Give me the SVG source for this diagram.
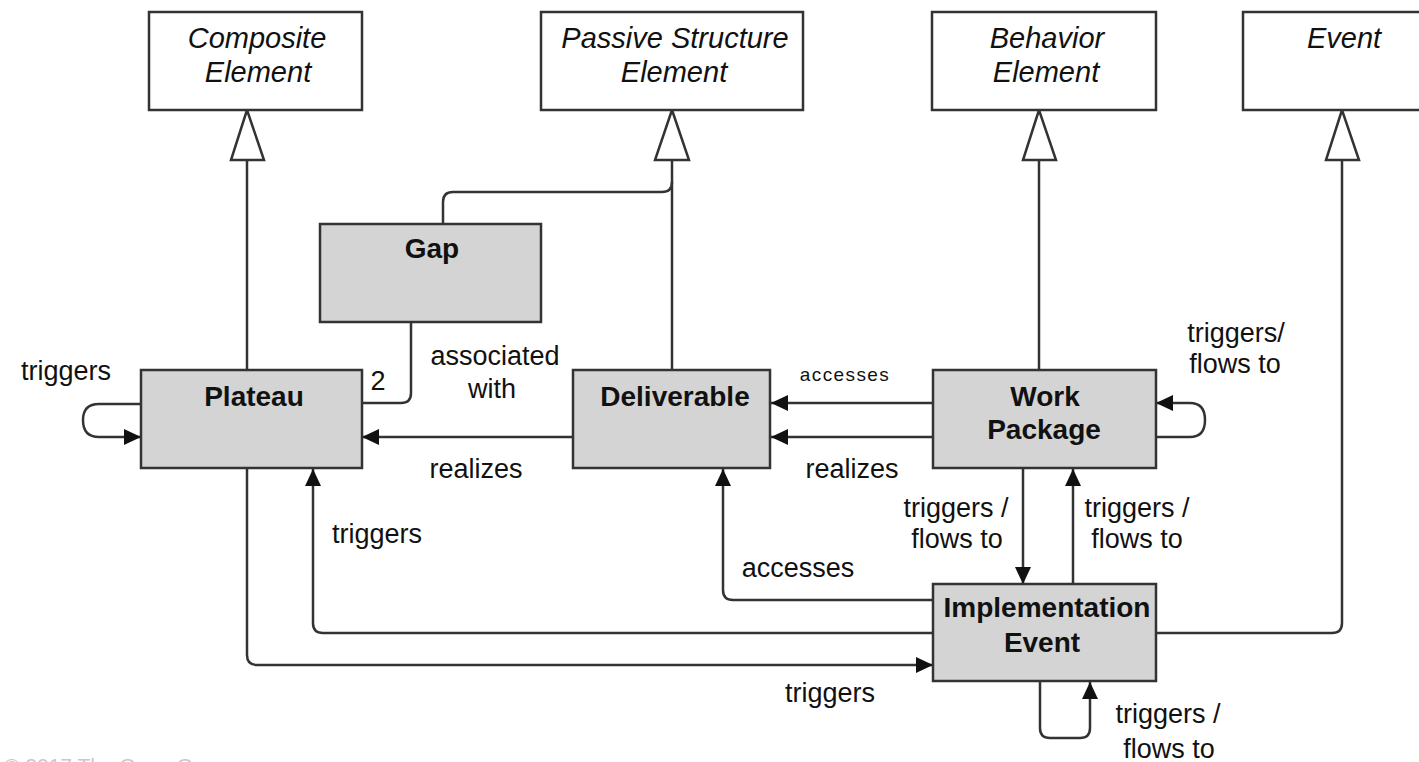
<svg xmlns="http://www.w3.org/2000/svg" width="1419" height="762" viewBox="0 0 1419 762">
  <style>
    .abs { fill: #ffffff; stroke: #333333; stroke-width: 2.5; }
    .con { fill: #d4d4d4; stroke: #333333; stroke-width: 2.5; }
    .it { font-family: "Liberation Sans", Arial, sans-serif; font-style: italic; font-size: 29px; fill: #111; text-anchor: middle; }
    .bd { font-family: "Liberation Sans", Arial, sans-serif; font-weight: bold; font-size: 28px; fill: #111; text-anchor: middle; }
    .lb { font-family: "Liberation Sans", Arial, sans-serif; font-size: 27px; fill: #111; text-anchor: middle; }
    .sm { font-family: "Liberation Sans", Arial, sans-serif; font-size: 19px; letter-spacing: 1.4px; fill: #111; text-anchor: middle; }
    .ln { fill: none; stroke: #333333; stroke-width: 2.5; }
    .gen { fill: #ffffff; stroke: #333333; stroke-width: 2.5; stroke-linejoin: miter; }
    .cp { font-family: "Liberation Sans", Arial, sans-serif; font-size: 21px; fill: #c8c8c8; }
  </style>
  <defs>
    <marker id="arr" viewBox="0 0 17 16" refX="17" refY="8" markerWidth="17" markerHeight="16" markerUnits="userSpaceOnUse" orient="auto">
      <path d="M0,0 L17,8 L0,16 Z" fill="#111"/>
    </marker>
  </defs>
  <rect width="1419" height="762" fill="#ffffff"/>

  <g id="connectors">
    <!-- generalizations -->
    <path class="ln" d="M247,160 V370"/>
    <polygon class="gen" points="247,110 231,160 264,160"/>
    <path class="ln" d="M672,160 V370"/>
    <path class="ln" d="M443,224 V202 Q443,192 453,192 H662 Q672,192 672,182"/>
    <polygon class="gen" points="672,110 655,160 689,160"/>
    <path class="ln" d="M1039,160 V370"/>
    <polygon class="gen" points="1039,110 1023,160 1056,160"/>
    <path class="ln" d="M1156,633 H1332 Q1342,633 1342,623 V160"/>
    <polygon class="gen" points="1342,110 1326,160 1359,160"/>
    <!-- Gap - Plateau association -->
    <path class="ln" d="M411,322 V393 Q411,403 401,403 H362"/>
    <!-- Plateau self loop -->
    <path class="ln" marker-end="url(#arr)" d="M141,404 H99 Q83,404 83,420 Q83,437 99,437 H141"/>
    <!-- Deliverable realizes Plateau -->
    <path class="ln" marker-end="url(#arr)" d="M573,437 H362"/>
    <!-- WP accesses / realizes Deliverable -->
    <path class="ln" marker-end="url(#arr)" d="M933,403 H771"/>
    <path class="ln" marker-end="url(#arr)" d="M933,437 H771"/>
    <!-- WP self loop -->
    <path class="ln" marker-end="url(#arr)" d="M1156,437 H1190 Q1205,437 1205,420 Q1205,403 1190,403 H1156"/>
    <!-- WP <-> IE -->
    <path class="ln" marker-end="url(#arr)" d="M1023,469 V584"/>
    <path class="ln" marker-end="url(#arr)" d="M1073,584 V469"/>
    <!-- IE accesses Deliverable -->
    <path class="ln" marker-end="url(#arr)" d="M933,600 H733 Q723,600 723,590 V469"/>
    <!-- IE triggers Plateau -->
    <path class="ln" marker-end="url(#arr)" d="M933,633 H323 Q313,633 313,623 V469"/>
    <!-- Plateau triggers IE -->
    <path class="ln" marker-end="url(#arr)" d="M247,469 V655 Q247,665 257,665 H933"/>
    <!-- IE self loop -->
    <path class="ln" marker-end="url(#arr)" d="M1040,682 V728 Q1040,738 1050,738 H1080 Q1090,738 1090,728 V682"/>
  </g>

  <g id="labels">
    <text class="lb" x="66" y="380">triggers</text>
    <text class="lb" x="378" y="390">2</text>
    <text class="lb" x="495" y="365">associated</text>
    <text class="lb" x="492" y="398">with</text>
    <text class="lb" x="476" y="478">realizes</text>
    <text class="sm" x="845" y="381">accesses</text>
    <text class="lb" x="852" y="478">realizes</text>
    <text class="lb" x="1236" y="342">triggers/</text>
    <text class="lb" x="1235" y="373">flows to</text>
    <text class="lb" x="377" y="543">triggers</text>
    <text class="lb" x="956" y="517">triggers /</text>
    <text class="lb" x="957" y="548">flows to</text>
    <text class="lb" x="1137" y="517">triggers /</text>
    <text class="lb" x="1137" y="548">flows to</text>
    <text class="lb" x="798" y="577">accesses</text>
    <text class="lb" x="830" y="702">triggers</text>
    <text class="lb" x="1168" y="723">triggers /</text>
    <text class="lb" x="1169" y="758">flows to</text>
  </g>

  <g id="composite-element">
    <rect class="abs" x="149" y="12" width="213" height="98"/>
    <text class="it" x="257" y="48">Composite</text>
    <text class="it" x="258" y="82">Element</text>
  </g>
  <g id="passive-structure-element">
    <rect class="abs" x="541" y="12" width="262" height="98"/>
    <text class="it" x="675" y="48">Passive Structure</text>
    <text class="it" x="674" y="82">Element</text>
  </g>
  <g id="behavior-element">
    <rect class="abs" x="932" y="12" width="224" height="98"/>
    <text class="it" x="1047" y="48">Behavior</text>
    <text class="it" x="1046" y="82">Element</text>
  </g>
  <g id="event">
    <rect class="abs" x="1243" y="12" width="210" height="98"/>
    <text class="it" x="1344" y="48">Event</text>
  </g>
  <g id="gap">
    <rect class="con" x="320" y="224" width="221" height="98"/>
    <text class="bd" x="432" y="258">Gap</text>
  </g>
  <g id="plateau">
    <rect class="con" x="141" y="370" width="221" height="98"/>
    <text class="bd" x="254" y="406">Plateau</text>
  </g>
  <g id="deliverable">
    <rect class="con" x="573" y="370" width="197" height="98"/>
    <text class="bd" x="675" y="406">Deliverable</text>
  </g>
  <g id="work-package">
    <rect class="con" x="933" y="370" width="223" height="98"/>
    <text class="bd" x="1045" y="406">Work</text>
    <text class="bd" x="1044" y="439">Package</text>
  </g>
  <g id="implementation-event">
    <rect class="con" x="933" y="584" width="223" height="97"/>
    <text class="bd" x="1047" y="617">Implementation</text>
    <text class="bd" x="1042" y="652">Event</text>
  </g>

  <text class="cp" x="4" y="773">© 2017 The Open Group</text>
</svg>
